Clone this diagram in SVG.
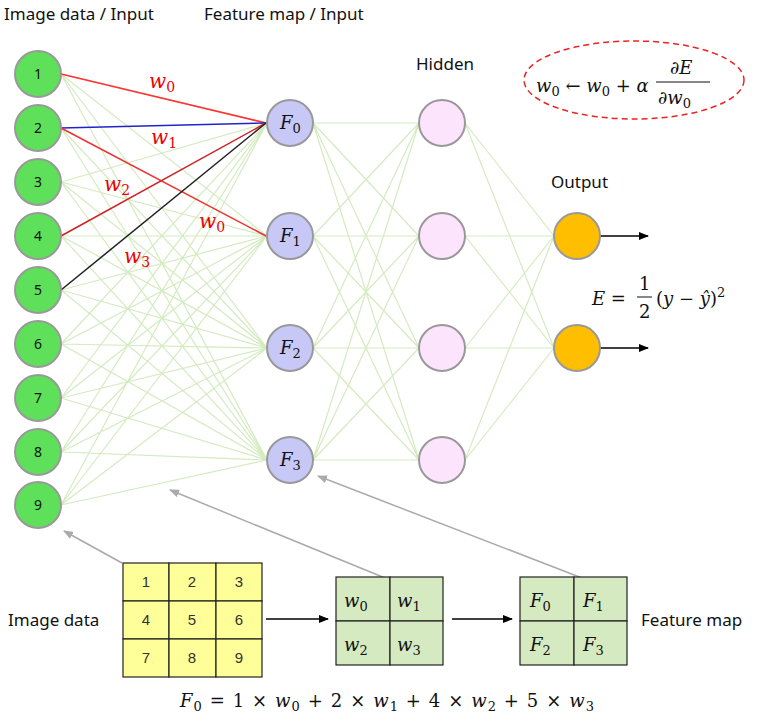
<svg xmlns="http://www.w3.org/2000/svg" width="762" height="721" viewBox="0 0 762 721">
<style>
.lbl{font-family:"Noto Sans","Liberation Sans",sans-serif;font-size:17px;fill:#111}
.num{font-family:"Noto Sans","Liberation Sans",sans-serif;font-size:14px;fill:#111;text-anchor:middle}
.m{font-family:"DejaVu Serif",serif;font-style:italic;font-size:18px;fill:#111}
.s{font-size:13px;font-style:normal}
.u{font-style:normal}
.i{font-style:italic}
.w{fill:#e00;font-size:20px}
.w .s{font-size:14px}
.in{fill:#5ee05a;stroke:#999;stroke-width:2}
.ft{fill:#c8c8f6;stroke:#999;stroke-width:2}
.hd{fill:#fde4fd;stroke:#999;stroke-width:2}
.op{fill:#ffbf00;stroke:#999;stroke-width:2}
.g{stroke:#d4ebc0;stroke-width:1.2}
.cell{fill:#ffff99;stroke:#222;stroke-width:1.2}
.gc{fill:#d5eac0;stroke:#222;stroke-width:1.2}
.cn{font-family:"Liberation Sans",sans-serif;font-size:15px;fill:#333;text-anchor:middle}
.ab{stroke:#000;stroke-width:1.5;marker-end:url(#ab)}
.ag{stroke:#aaa;stroke-width:1.5;marker-end:url(#ag)}
</style>
<defs>
<marker id="ab" markerWidth="10" markerHeight="8" refX="9" refY="4" orient="auto" markerUnits="userSpaceOnUse"><path d="M0,0L10,4L0,8z" fill="#000"/></marker>
<marker id="ag" markerWidth="10" markerHeight="8" refX="9" refY="4" orient="auto" markerUnits="userSpaceOnUse"><path d="M0,0L10,4L0,8z" fill="#aaa"/></marker>
</defs>
<text class="lbl" x="4" y="20">Image data / Input</text>
<text class="lbl" x="204" y="20">Feature map / Input</text>
<text class="lbl" x="416" y="70">Hidden</text>
<text class="lbl" x="551" y="188">Output</text>
<g id="connectors">
<g class="g">
<path d="M61,74L267,123M61,74L267,236M61,74L267,348M61,74L267,460
M61,128L267,236M61,128L267,348M61,128L267,460
M61,182L267,123M61,182L267,236M61,182L267,348M61,182L267,460
M61,236L267,236M61,236L267,348M61,236L267,460
M61,290L267,236M61,290L267,348M61,290L267,460
M61,344L267,123M61,344L267,236M61,344L267,348M61,344L267,460
M61,398L267,123M61,398L267,236M61,398L267,348M61,398L267,460
M61,452L267,123M61,452L267,236M61,452L267,348M61,452L267,460
M61,505L267,123M61,505L267,236M61,505L267,348M61,505L267,460"/>
<path d="M313,123L419,123M313,123L419,236M313,123L419,348M313,123L419,460
M313,236L419,123M313,236L419,236M313,236L419,348M313,236L419,460
M313,348L419,123M313,348L419,236M313,348L419,348M313,348L419,460
M313,460L419,123M313,460L419,236M313,460L419,348M313,460L419,460"/>
<path d="M465,123L554,236M465,123L554,348M465,236L554,236M465,236L554,348M465,348L554,236M465,348L554,348M465,460L554,236M465,460L554,348"/>
</g>
<path d="M61,74L266,123" stroke="#f33" stroke-width="1.5"/>
<path d="M61,128L266,123" stroke="#22c" stroke-width="1.5"/>
<path d="M61,128L266,236" stroke="#e33" stroke-width="1.5"/>
<path d="M61,236L266,123" stroke="#c22" stroke-width="1.5"/>
<path d="M61,290L266,123" stroke="#222" stroke-width="1.5"/>
<path class="ab" d="M600,236L648,236"/>
<path class="ab" d="M600,348L648,348"/>
<path class="ab" d="M266,619L328,619"/>
<path class="ab" d="M452,619L512,619"/>
<path class="ag" d="M122,563L64,531"/>
<path class="ag" d="M385,578L170,490"/>
<path class="ag" d="M582,578L318,476"/>
</g>
<g class="m w">
<text x="149" y="88">w<tspan class="s" dy="4">0</tspan></text>
<text x="151" y="144">w<tspan class="s" dy="4">1</tspan></text>
<text x="104" y="191">w<tspan class="s" dy="4">2</tspan></text>
<text x="199" y="228">w<tspan class="s" dy="4">0</tspan></text>
<text x="124" y="263">w<tspan class="s" dy="4">3</tspan></text>
</g>
<g id="inputs">
<g id="n1"><circle class="in" cx="38" cy="74" r="23"/><text class="num" x="38" y="79">1</text></g>
<g id="n2"><circle class="in" cx="38" cy="128" r="23"/><text class="num" x="38" y="133">2</text></g>
<g id="n3"><circle class="in" cx="38" cy="182" r="23"/><text class="num" x="38" y="187">3</text></g>
<g id="n4"><circle class="in" cx="38" cy="236" r="23"/><text class="num" x="38" y="241">4</text></g>
<g id="n5"><circle class="in" cx="38" cy="290" r="23"/><text class="num" x="38" y="295">5</text></g>
<g id="n6"><circle class="in" cx="38" cy="344" r="23"/><text class="num" x="38" y="349">6</text></g>
<g id="n7"><circle class="in" cx="38" cy="398" r="23"/><text class="num" x="38" y="403">7</text></g>
<g id="n8"><circle class="in" cx="38" cy="452" r="23"/><text class="num" x="38" y="457">8</text></g>
<g id="n9"><circle class="in" cx="38" cy="505" r="23"/><text class="num" x="38" y="510">9</text></g>
</g>
<g id="features">
<g id="F0"><circle class="ft" cx="290" cy="123" r="23"/><text class="m" x="280" y="129">F<tspan class="s" dy="4">0</tspan></text></g>
<g id="F1"><circle class="ft" cx="290" cy="236" r="23"/><text class="m" x="280" y="242">F<tspan class="s" dy="4">1</tspan></text></g>
<g id="F2"><circle class="ft" cx="290" cy="348" r="23"/><text class="m" x="280" y="354">F<tspan class="s" dy="4">2</tspan></text></g>
<g id="F3"><circle class="ft" cx="290" cy="460" r="23"/><text class="m" x="280" y="466">F<tspan class="s" dy="4">3</tspan></text></g>
</g>
<g id="hidden">
<circle class="hd" cx="442" cy="123" r="23"/><circle class="hd" cx="442" cy="236" r="23"/>
<circle class="hd" cx="442" cy="348" r="23"/><circle class="hd" cx="442" cy="460" r="23"/>
</g>
<g id="outputs"><circle class="op" cx="577" cy="236" r="23"/><circle class="op" cx="577" cy="348" r="23"/></g>
<g id="update">
<ellipse cx="634" cy="80" rx="110" ry="39" fill="none" stroke="#e22" stroke-width="1.5" stroke-dasharray="6,4"/>
<text class="m" x="536" y="92">w<tspan class="s" dy="4">0</tspan><tspan dy="-4" class="u"> ← </tspan>w<tspan class="s" dy="4">0</tspan><tspan dy="-4" class="u"> + </tspan>α</text>
<text class="m u" x="670" y="74">∂<tspan class="i">E</tspan></text>
<line x1="656" y1="82" x2="710" y2="82" stroke="#111" stroke-width="1"/>
<text class="m u" x="658" y="104">∂<tspan class="i">w</tspan><tspan class="s" dy="4">0</tspan></text>
</g>
<g id="error">
<text class="m" x="592" y="305">E<tspan class="u"> = </tspan></text>
<text class="m u" x="639" y="290">1</text>
<line x1="637" y1="297" x2="652" y2="297" stroke="#111" stroke-width="1"/>
<text class="m u" x="639" y="318">2</text>
<text class="m" x="656" y="305"><tspan class="u">(</tspan>y<tspan class="u"> − </tspan>ŷ<tspan class="u">)</tspan><tspan class="s" dy="-8">2</tspan></text>
</g>
<g id="image-grid">
<rect class="cell" x="123" y="563" width="46" height="38"/><rect class="cell" x="169" y="563" width="47" height="38"/><rect class="cell" x="216" y="563" width="46" height="38"/>
<rect class="cell" x="123" y="601" width="46" height="38"/><rect class="cell" x="169" y="601" width="47" height="38"/><rect class="cell" x="216" y="601" width="46" height="38"/>
<rect class="cell" x="123" y="639" width="46" height="38"/><rect class="cell" x="169" y="639" width="47" height="38"/><rect class="cell" x="216" y="639" width="46" height="38"/>
<text class="cn" x="146" y="587">1</text><text class="cn" x="192" y="587">2</text><text class="cn" x="239" y="587">3</text>
<text class="cn" x="146" y="625">4</text><text class="cn" x="192" y="625">5</text><text class="cn" x="239" y="625">6</text>
<text class="cn" x="146" y="663">7</text><text class="cn" x="192" y="663">8</text><text class="cn" x="239" y="663">9</text>
</g>
<text class="lbl" x="8" y="626">Image data</text>
<g id="kernel">
<rect class="gc" x="336" y="577" width="54" height="44"/><rect class="gc" x="390" y="577" width="53" height="44"/>
<rect class="gc" x="336" y="621" width="54" height="44"/><rect class="gc" x="390" y="621" width="53" height="44"/>
<text class="m" x="344" y="607">w<tspan class="s" dy="4">0</tspan></text><text class="m" x="397" y="607">w<tspan class="s" dy="4">1</tspan></text>
<text class="m" x="344" y="651">w<tspan class="s" dy="4">2</tspan></text><text class="m" x="397" y="651">w<tspan class="s" dy="4">3</tspan></text>
</g>
<g id="fmap">
<rect class="gc" x="520" y="577" width="54" height="44"/><rect class="gc" x="574" y="577" width="53" height="44"/>
<rect class="gc" x="520" y="621" width="54" height="44"/><rect class="gc" x="574" y="621" width="53" height="44"/>
<text class="m" x="530" y="607">F<tspan class="s" dy="4">0</tspan></text><text class="m" x="583" y="607">F<tspan class="s" dy="4">1</tspan></text>
<text class="m" x="530" y="651">F<tspan class="s" dy="4">2</tspan></text><text class="m" x="583" y="651">F<tspan class="s" dy="4">3</tspan></text>
</g>
<text class="lbl" x="641" y="626">Feature map</text>
<text class="m" x="180" y="707" textLength="414" lengthAdjust="spacing">F<tspan class="s" dy="4">0</tspan><tspan dy="-4" class="u"> = 1 × </tspan>w<tspan class="s" dy="4">0</tspan><tspan dy="-4" class="u"> + 2 × </tspan>w<tspan class="s" dy="4">1</tspan><tspan dy="-4" class="u"> + 4 × </tspan>w<tspan class="s" dy="4">2</tspan><tspan dy="-4" class="u"> + 5 × </tspan>w<tspan class="s" dy="4">3</tspan></text>
</svg>
